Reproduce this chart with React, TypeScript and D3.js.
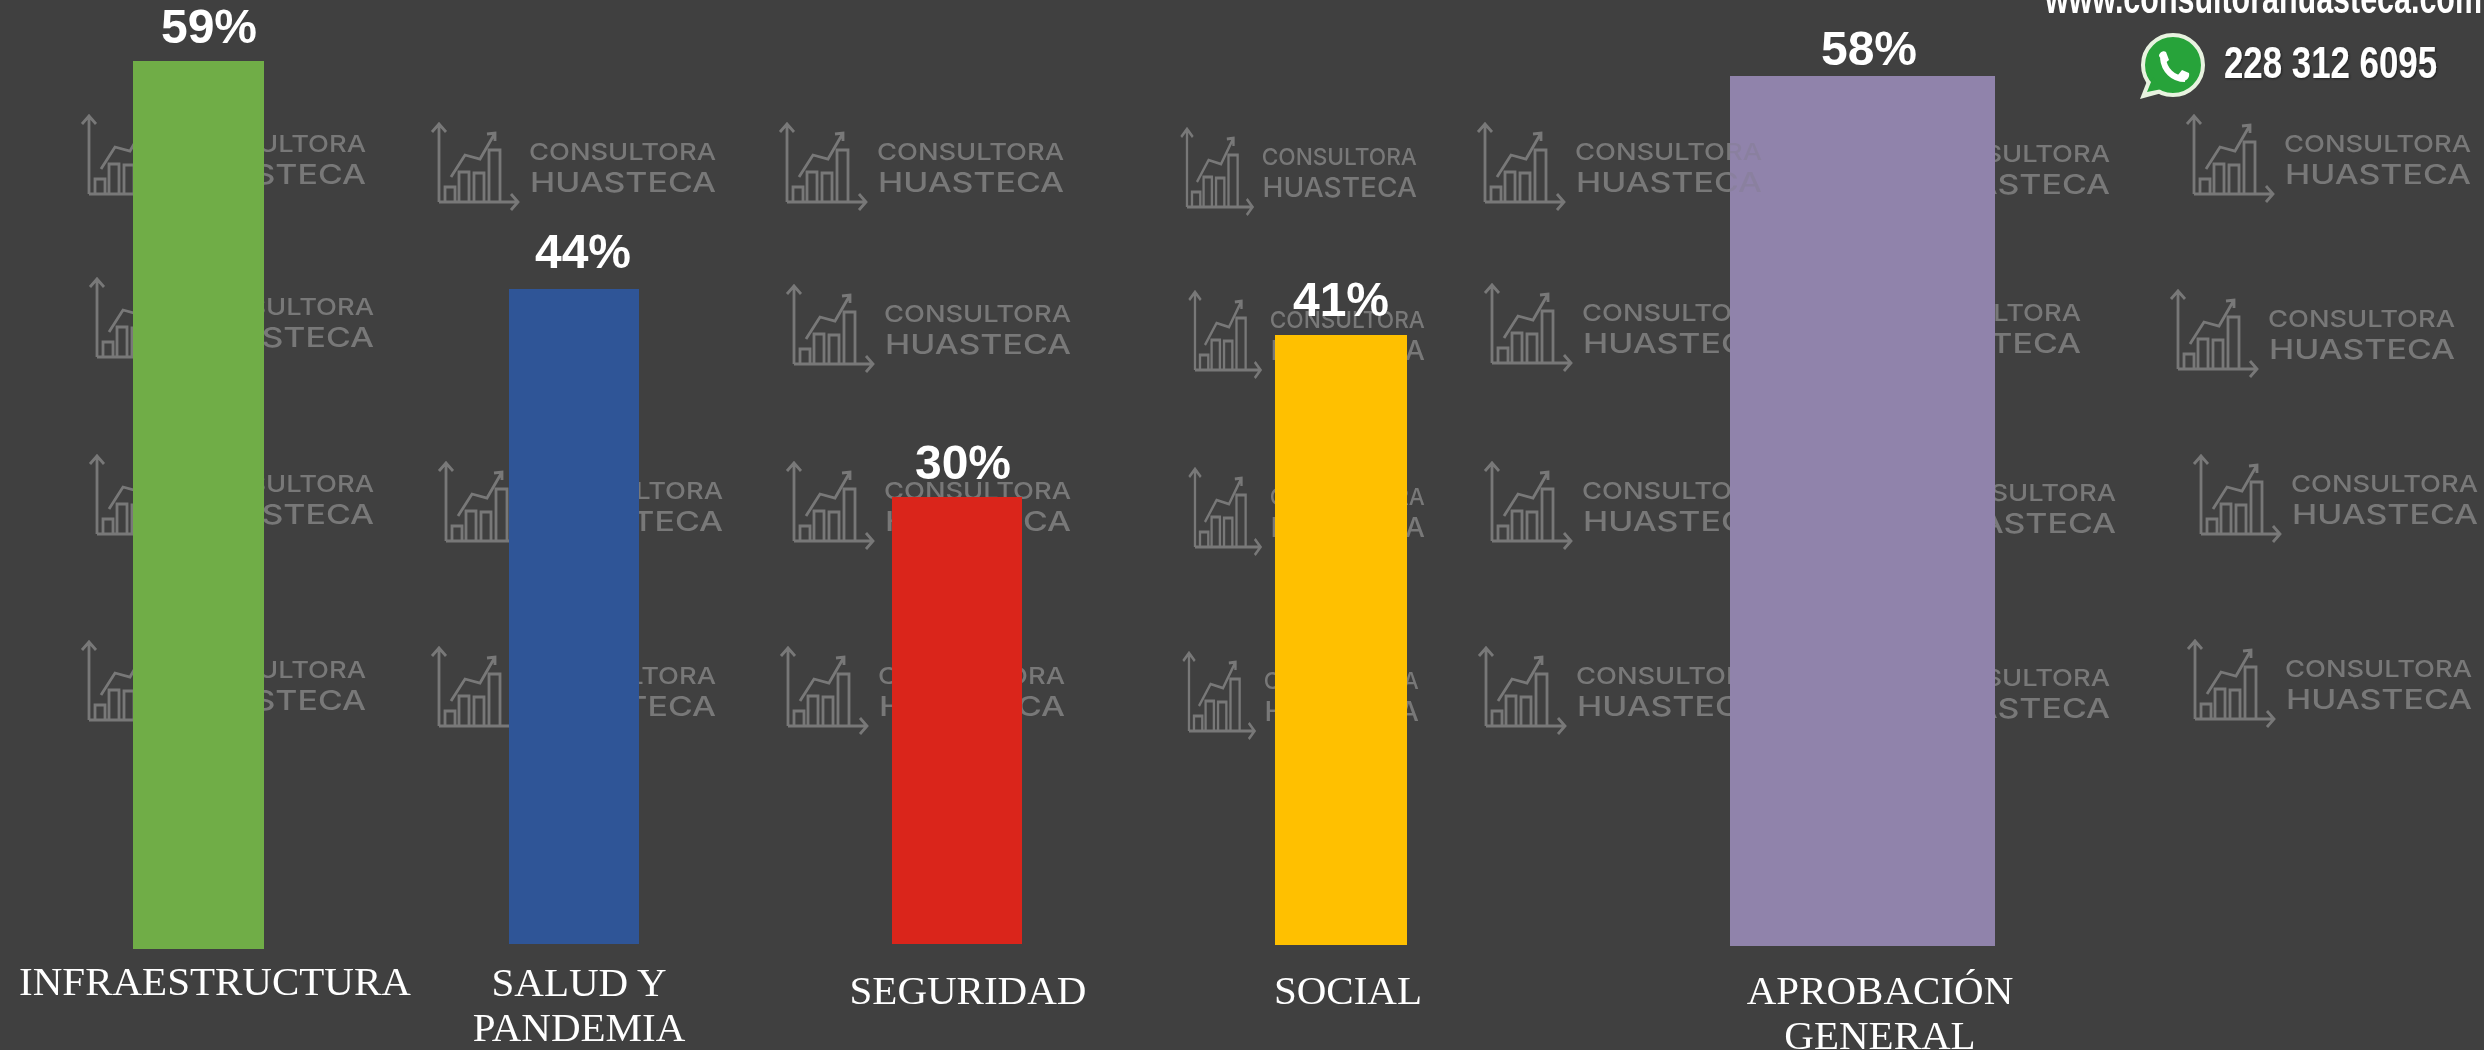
import { useEffect, useRef } from 'react';
import * as d3 from 'd3';

const WIDTH = 2484;
const HEIGHT = 1050;

// chart data, values
const categories = ['INFRAESTRUCTURA', 'SALUD Y PANDEMIA', 'SEGURIDAD', 'SOCIAL', 'APROBACIÓN GENERAL'];
const values = [59, 43.5, 29.7, 40.5, 57.8];
const labelLines = [['INFRAESTRUCTURA'], ['SALUD Y', 'PANDEMIA'], ['SEGURIDAD'], ['SOCIAL'], ['APROBACIÓN', 'GENERAL']];

// the bars were placed by hand on the slide, so every one has its own place
const barColors = ['#70AD47', '#2F5597', '#DA251B', '#FFC000', '#9083AB'];
const barLeft = [133, 509, 892, 1275, 1730];
const barWidth = [131, 130, 130, 132, 265];
const barBottom = [949, 944, 944, 945, 946];
const valueX = [209, 583, 963, 1341, 1869];
const valueY = [43, 268, 479, 316, 65];
const labelX = [215, 579, 968, 1348, 1880];
const labelY = [995, 996, 1004, 1004, 1004];

// watermark logos: x, y of the chart corner and horizontal squeeze
const watermarks: [number, number, number][] = [
  [89, 194, 1], [97, 357, 1], [97, 534, 1], [89, 720, 1],
  [439, 202, 1], [446, 541, 1], [439, 726, 1],
  [787, 202, 1], [794, 364, 1], [794, 541, 1], [788, 726, 1],
  [1187, 207, 0.83], [1195, 370, 0.83], [1195, 547, 0.83], [1189, 731, 0.83],
  [1485, 202, 1], [1492, 363, 1], [1492, 541, 1], [1486, 726, 1],
  [1833, 204, 1], [1804, 363, 1], [1839, 543, 1], [1833, 728, 1],
  [2194, 194, 1], [2178, 369, 1], [2201, 534, 1], [2195, 719, 1],
];

const MARK = '#787878';

function drawLogo(parent: d3.Selection<any, unknown, null, undefined>, x: number, y: number, sx: number, color: string) {
  const g = parent.append('g').attr('transform', `translate(${x},${y}) scale(${sx},1)`);
  const paths = [
    'M0,0V-78M-7,-70L0,-78L7,-70',
    'M0,0H79M72,-8L79,0L72,8',
    'M6,0V-15H16V0',
    'M20,0V-30H30V0',
    'M35,0V-29H45V0',
    'M50,0V-52H61V0',
    'M12,-25L26,-47L41,-43L56,-69M48,-68L56,-69L56,-61',
  ];
  g.selectAll('path')
    .data(paths)
    .enter()
    .append('path')
    .attr('d', d => d)
    .attr('fill', 'none')
    .attr('stroke', color)
    .attr('stroke-width', 2.8);

  g.append('text')
    .attr('x', 90)
    .attr('y', -42)
    .attr('font-family', 'Inter')
    .attr('font-weight', 500)
    .attr('font-size', 23.5)
    .attr('fill', color)
    .attr('textLength', 187)
    .attr('lengthAdjust', 'spacingAndGlyphs')
    .text('CONSULTORA');
  g.append('text')
    .attr('x', 91)
    .attr('y', -10)
    .attr('font-family', 'Inter')
    .attr('font-weight', 500)
    .attr('font-size', 27.5)
    .attr('fill', color)
    .attr('textLength', 186)
    .attr('lengthAdjust', 'spacingAndGlyphs')
    .text('HUASTECA');
}

export default function App() {
  const svgRef = useRef<SVGSVGElement>(null);

  useEffect(() => {
    if (!svgRef.current) return;

    const svg = d3.select(svgRef.current);
    svg.selectAll('*').remove();

    const defs = svg.append('defs');
    defs.append('filter')
      .attr('id', 'soft')
      .append('feGaussianBlur')
      .attr('stdDeviation', 0.55);
    const shadow = defs.append('filter').attr('id', 'shadow');
    shadow.append('feDropShadow')
      .attr('dx', 1)
      .attr('dy', 1)
      .attr('stdDeviation', 1)
      .attr('flood-color', '#000')
      .attr('flood-opacity', 0.5);

    svg.append('rect')
      .attr('width', WIDTH)
      .attr('height', HEIGHT)
      .attr('fill', '#404040');

    // watermark sits under the bars
    const marks = svg.append('g').attr('filter', 'url(#soft)');
    watermarks.forEach(([x, y, sx]) => drawLogo(marks, x, y, sx, MARK));

    const x = d3.scaleOrdinal<string, number>(categories, barLeft);
    const w = d3.scaleOrdinal<string, number>(categories, barWidth);
    const bottom = d3.scaleOrdinal<string, number>(categories, barBottom);
    const color = d3.scaleOrdinal<string, string>(categories, barColors);
    const h = d3.scaleLinear().domain([0, 100]).range([0, 1505]);
    const top = (d: string, i: number) => Math.round(bottom(d) - h(values[i]));

    svg.append('g')
      .selectAll('rect')
      .data(categories)
      .enter()
      .append('rect')
      .attr('x', d => x(d))
      .attr('y', (d, i) => top(d, i))
      .attr('width', d => w(d))
      .attr('height', (d, i) => bottom(d) - top(d, i))
      .attr('fill', d => color(d));

    // one logo runs faintly over the purple bar
    const purpleTop = top(categories[4], 4);
    defs.append('clipPath')
      .attr('id', 'purple-clip')
      .append('rect')
      .attr('x', barLeft[4])
      .attr('y', purpleTop)
      .attr('width', barWidth[4])
      .attr('height', barBottom[4] - purpleTop);
    const overBar = svg.append('g')
      .attr('clip-path', 'url(#purple-clip)')
      .append('g')
      .attr('filter', 'url(#soft)')
      .attr('opacity', 0.22);
    drawLogo(overBar, 1485, 202, 1, MARK);

    // percent labels
    svg.append('g')
      .selectAll('text')
      .data(values)
      .enter()
      .append('text')
      .attr('x', (d, i) => valueX[i])
      .attr('y', (d, i) => valueY[i])
      .attr('text-anchor', 'middle')
      .attr('font-family', 'Liberation Sans')
      .attr('font-weight', 'bold')
      .attr('font-size', 48)
      .attr('fill', '#fff')
      .text(d => `${Math.round(d)}%`);

    // category labels
    const labels = svg.append('g')
      .selectAll('text')
      .data(labelLines)
      .enter()
      .append('text')
      .attr('text-anchor', 'middle')
      .attr('font-family', 'Liberation Serif')
      .attr('font-size', 41)
      .attr('fill', '#fff');
    labels.selectAll('tspan')
      .data((d, i) => d.map(line => ({ line, i })))
      .enter()
      .append('tspan')
      .attr('x', d => labelX[d.i])
      .attr('y', (d, j) => labelY[d.i] + j * 45)
      .text(d => d.line);

    // contact block, top right
    svg.append('text')
      .attr('x', 2045)
      .attr('y', 13)
      .attr('font-family', 'Liberation Sans')
      .attr('font-weight', 'bold')
      .attr('font-size', 42)
      .attr('fill', '#fff')
      .attr('textLength', 437)
      .attr('lengthAdjust', 'spacingAndGlyphs')
      .text('www.consultorahuasteca.com');

    svg.append('text')
      .attr('x', 2224)
      .attr('y', 78)
      .attr('font-family', 'Liberation Sans')
      .attr('font-weight', 'bold')
      .attr('font-size', 44)
      .attr('fill', '#fff')
      .attr('filter', 'url(#shadow)')
      .attr('textLength', 213)
      .attr('lengthAdjust', 'spacingAndGlyphs')
      .text('228 312 6095');

    const icon = svg.append('g').attr('transform', 'translate(2173,65)');
    icon.append('path')
      .attr('d', 'M-33,34L-24,11L-11,28Z')
      .attr('fill', '#e8f3e0');
    icon.append('circle')
      .attr('r', 30)
      .attr('fill', '#27a33a')
      .attr('stroke', '#e8f3e0')
      .attr('stroke-width', 4);
    icon.append('path')
      .attr('d', 'M-26,27L-20,12L-11,24Z')
      .attr('fill', '#27a33a');
    icon.append('path')
      .attr('d', 'M-10,-7C-9,5 0,14 12,14')
      .attr('fill', 'none')
      .attr('stroke', '#fff')
      .attr('stroke-width', 6);
    icon.append('path')
      .attr('d', 'M-14,-9C-14,-12 -10,-15 -7,-13L-4,-5L-9,-1Z M5,10L9,5L16,8C17,12 14,16 10,16Z')
      .attr('fill', '#fff');
  }, []);

  return (
    <svg
      ref={svgRef}
      width={WIDTH}
      height={HEIGHT}
      style={{ position: 'fixed', top: 0, left: 0, display: 'block' }}
    />
  );
}
